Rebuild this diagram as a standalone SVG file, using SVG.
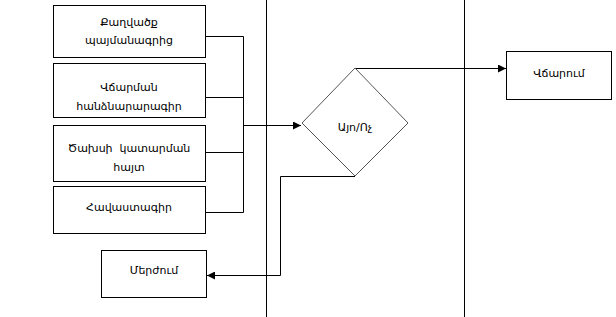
<svg xmlns="http://www.w3.org/2000/svg" width="616" height="317" viewBox="0 0 616 317">
<defs>
<style>
.box{fill:#fff;stroke:#000;stroke-width:1}
.lane{stroke:#000;stroke-width:1;fill:none}
.con{stroke:#000;stroke-width:1;fill:none}
.dia{fill:#fff;stroke:#555;stroke-width:1}
text{font-family:"DejaVu Sans","Noto Sans",sans-serif;font-size:11px;fill:#000;text-anchor:middle}
</style>
<marker id="arr" viewBox="0 0 10 10" refX="10" refY="5" markerWidth="10" markerHeight="8" markerUnits="userSpaceOnUse" orient="auto">
<path d="M0,0 L10,5 L0,10 z" fill="#000"/>
</marker>
</defs>
<rect width="616" height="317" fill="#fff"/>
<g id="lanes">
<line class="lane" x1="266.5" y1="0" x2="266.5" y2="317"/>
<line class="lane" x1="464.5" y1="0" x2="464.5" y2="317"/>
</g>
<g id="connectors">
<polyline class="con" points="206,36.5 243.5,36.5 243.5,212.5 206,212.5"/>
<line class="con" x1="206" y1="97.5" x2="243.5" y2="97.5"/>
<line class="con" x1="206" y1="152.5" x2="243.5" y2="152.5"/>
<line class="con" x1="243.5" y1="125.5" x2="301" y2="125.5" marker-end="url(#arr)"/>
<polyline class="con" points="355,68.5 506,68.5" marker-end="url(#arr)"/>
<polyline class="con" points="355,176.5 280.5,176.5 280.5,275.5 207,275.5" marker-end="url(#arr)"/>
</g>
<g id="n1"><rect class="box" x="53.5" y="5.5" width="152" height="52"/><text x="129" y="26">Քաղվածք</text><text x="129" y="44">պայմանագրից</text></g>
<g id="n2"><rect class="box" x="53.5" y="63.5" width="152" height="54"/><text x="129" y="91">Վճարման</text><text x="129" y="110">հանձնարարագիր</text></g>
<g id="n3"><rect class="box" x="53.5" y="125.5" width="152" height="56"/><text x="129" y="152" xml:space="preserve" style="white-space:pre">Ծախսի  կատարման</text><text x="129" y="171">հայտ</text></g>
<g id="n4"><rect class="box" x="53.5" y="186.5" width="152" height="47"/><text x="129" y="211">Հավաստագիր</text></g>
<g id="n5"><rect class="box" x="101.5" y="250.5" width="105" height="47"/><text x="154" y="274">Մերժում</text></g>
<g id="n6"><polygon class="dia" points="355,68 408,123 355,176 302,123"/><text x="355" y="131">Այո/Ոչ</text></g>
<g id="n7"><rect class="box" x="506.5" y="51.5" width="105" height="48"/><text x="559" y="77">Վճարում</text></g>
</svg>
